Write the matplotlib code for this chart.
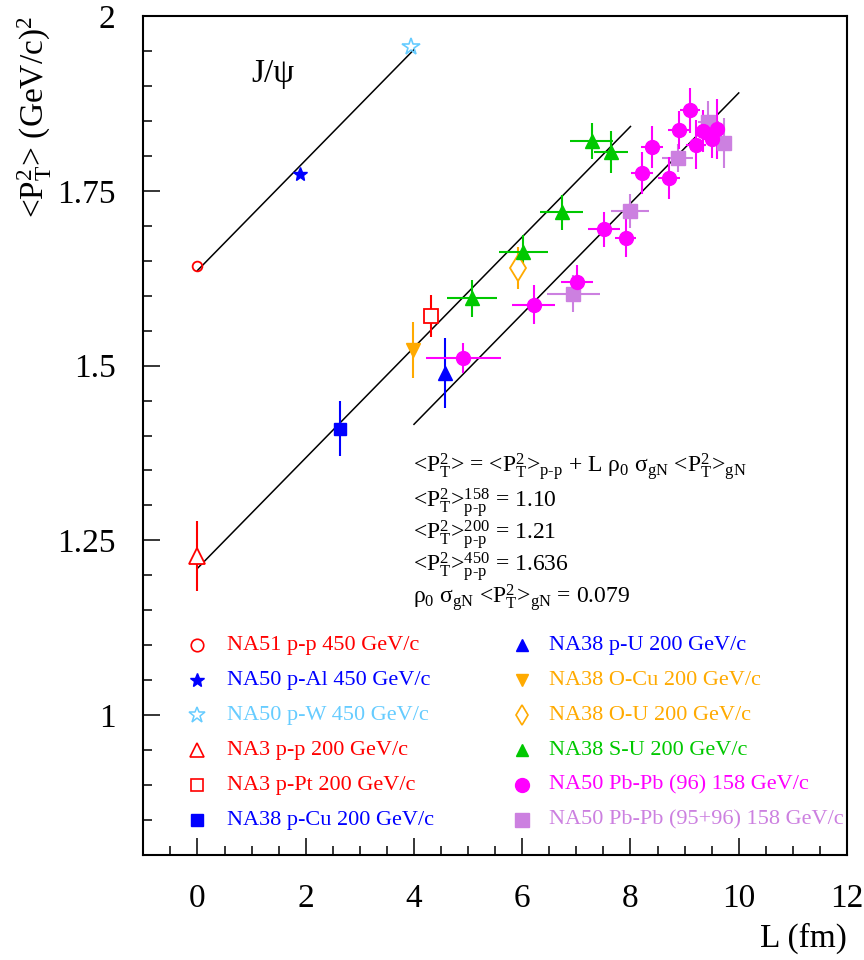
import numpy as np
import matplotlib
matplotlib.use("Agg")
import matplotlib.pyplot as plt
from matplotlib.ticker import MultipleLocator, FixedLocator, FixedFormatter

plt.rcParams["font.family"] = ["Liberation Serif", "DejaVu Serif"]
plt.rcParams["mathtext.fontset"] = "custom"
plt.rcParams["mathtext.rm"] = "Liberation Serif"
plt.rcParams["mathtext.it"] = "Liberation Serif:italic"

RED, BLUE, SKY = "#ff0000", "#0000ff", "#66ccff"
ORANGE, GREEN, MAG, LILAC = "#ffaa00", "#00c800", "#ff00ff", "#cc80e0"

# --- data (L in fm, <pT^2> in (GeV/c)^2) ---
na51_pp_x, na51_pp_y = [0.0], [1.642]
na50_al_x, na50_al_y = [1.90], [1.774]
na50_w_x, na50_w_y = [3.95], [1.956]
na3_pp_x, na3_pp_y, na3_pp_ey = [0.0], [1.227], [0.050]
na3_pt_x, na3_pt_y, na3_pt_ey = [4.31], [1.571], [0.030]
na38_cu_x, na38_cu_y, na38_cu_ey = [2.63], [1.410], [0.040]
na38_pu_x, na38_pu_y, na38_pu_ey = [4.57], [1.490], [0.050]
na38_ocu_x, na38_ocu_y, na38_ocu_ey = [3.99], [1.522], [0.040]
na38_ou_x, na38_ou_y, na38_ou_ey = [5.93], [1.640], [0.030]

na38_su_x = [5.07, 6.02, 6.73, 7.28, 7.64]
na38_su_y = [1.596, 1.662, 1.719, 1.821, 1.806]
na38_su_ex = [0.46, 0.45, 0.40, 0.40, 0.32]
na38_su_ey = [0.026, 0.025, 0.025, 0.026, 0.030]

pb96_x = [4.91, 6.21, 7.01, 7.51, 7.91, 8.21, 8.40, 8.71, 8.90, 9.10, 9.21, 9.34, 9.50, 9.60]
pb96_y = [1.511, 1.587, 1.619, 1.695, 1.683, 1.775, 1.812, 1.769, 1.837, 1.865, 1.816, 1.835, 1.824, 1.839]
pb96_ex = [0.69, 0.40, 0.29, 0.29, 0.20, 0.20, 0.20, 0.20, 0.20, 0.18, 0.18, 0.15, 0.15, 0.15]
pb96_ey = [0.021, 0.028, 0.025, 0.025, 0.027, 0.030, 0.030, 0.030, 0.027, 0.032, 0.035, 0.030, 0.027, 0.043]

pb9596_x = [6.94, 7.99, 8.87, 9.44, 9.72]
pb9596_y = [1.603, 1.721, 1.797, 1.848, 1.818]
pb9596_ex = [0.49, 0.35, 0.29, 0.20, 0.15]
pb9596_ey = [0.027, 0.024, 0.020, 0.030, 0.036]

# fit: <pT2> = <pT2>_pp + L rho0 sigma <pT2>_gN
slope = 0.079
fits = [(1.636, 0.0, 4.0), (1.21, 0.0, 8.0), (1.10, 4.0, 10.0)]

fig = plt.figure(figsize=(8.64, 9.6), dpi=100)
ax = fig.add_axes([0.1659, 0.1094, 0.8144, 0.8739])

for b, lo, hi in fits:
    L = np.array([lo, hi])
    ax.plot(L, b + slope * L, color="black", lw=1.1, zorder=2)


def pts(x, y, ex=None, ey=None, **kw):
    ax.errorbar(x, y, xerr=ex, yerr=ey, ls="none", elinewidth=1.5, capsize=0,
                ecolor=kw.get("color"), zorder=3, **kw)


pts(na51_pp_x, na51_pp_y, marker="o", ms=7, mfc="none", mew=1.3, color=RED)
pts(na50_al_x, na50_al_y, marker="*", ms=10, color=BLUE)
pts(na50_w_x, na50_w_y, marker="*", ms=13, mfc="none", mew=1.2, color=SKY)
pts(na3_pp_x, na3_pp_y, ey=na3_pp_ey, marker="^", ms=11, mfc="white", mew=1.3, color=RED)
pts(na3_pt_x, na3_pt_y, ey=na3_pt_ey, marker="s", ms=10, mfc="white", mew=1.3, color=RED)
pts(na38_cu_x, na38_cu_y, ey=na38_cu_ey, marker="s", ms=9, color=BLUE)
pts(na38_pu_x, na38_pu_y, ey=na38_pu_ey, marker="^", ms=10, color=BLUE)
pts(na38_ocu_x, na38_ocu_y, ey=na38_ocu_ey, marker="v", ms=10, color=ORANGE)
pts(na38_ou_x, na38_ou_y, ey=na38_ou_ey, marker="d", ms=13, mfc="white", mew=1.3, color=ORANGE)
pts(na38_su_x, na38_su_y, na38_su_ex, na38_su_ey, marker="^", ms=10, color=GREEN)
pts(pb9596_x, pb9596_y, pb9596_ex, pb9596_ey, marker="s", ms=10, color=LILAC)
pts(pb96_x, pb96_y, pb96_ex, pb96_ey, marker="o", ms=10, color=MAG)

# legend drawn by hand, ROOT style
left = [("NA51 p-p 450 GeV/c", RED, dict(marker="o", ms=9, mfc="none", mew=1.2)),
        ("NA50 p-Al 450 GeV/c", BLUE, dict(marker="*", ms=10)),
        ("NA50 p-W 450 GeV/c", SKY, dict(marker="*", ms=12, mfc="none", mew=1.1)),
        ("NA3 p-p 200 GeV/c", RED, dict(marker="^", ms=10, mfc="none", mew=1.2)),
        ("NA3 p-Pt 200 GeV/c", RED, dict(marker="s", ms=9, mfc="none", mew=1.2)),
        ("NA38 p-Cu 200 GeV/c", BLUE, dict(marker="s", ms=9))]
right = [("NA38 p-U 200 GeV/c", BLUE, dict(marker="^", ms=9)),
         ("NA38 O-Cu 200 GeV/c", ORANGE, dict(marker="v", ms=9)),
         ("NA38 O-U 200 GeV/c", ORANGE, dict(marker="d", ms=10, mfc="none", mew=1.2)),
         ("NA38 S-U 200 GeV/c", GREEN, dict(marker="^", ms=9)),
         ("NA50 Pb-Pb (96) 158 GeV/c", MAG, dict(marker="o", ms=10)),
         ("NA50 Pb-Pb (95+96) 158 GeV/c", LILAC, dict(marker="s", ms=10))]
rows = [1.10, 1.05, 1.00, 0.95, 0.90, 0.85]
for (xm, xt), col in (((0.0, 0.55), left), ((6.0, 6.5), right)):
    for y, (lab, c, st) in zip(rows, col):
        ax.plot([xm], [y], ls="none", color=c, **st)
        ax.text(xt, y, lab, color=c, fontsize=16, va="center", ha="left")

P2 = r"<P$^{2}_{\mathrm{T}}$>"
lines = [P2 + " = " + P2 + r"$_{\mathrm{p\text{-}p}}$ + L ρ$_0$ σ$_{\mathrm{gN}}$ " + P2 + r"$_{\mathrm{gN}}$",
         P2 + r"$^{158}_{\mathrm{p\text{-}p}}$ = 1.10",
         P2 + r"$^{200}_{\mathrm{p\text{-}p}}$ = 1.21",
         P2 + r"$^{450}_{\mathrm{p\text{-}p}}$ = 1.636",
         r"ρ$_0$ σ$_{\mathrm{gN}}$ " + P2 + r"$_{\mathrm{gN}}$ = 0.079"]
for y, s in zip([1.346, 1.297, 1.251, 1.205, 1.159], lines):
    ax.text(3.99, y, s, fontsize=17, ha="left", va="baseline")

ax.text(1.0, 1.917, "J/ψ", fontsize=24, ha="left", va="center")

ax.set_xlim(-1, 12)
ax.set_ylim(0.8, 2.0)
ax.xaxis.set_major_locator(MultipleLocator(2))
ax.xaxis.set_minor_locator(MultipleLocator(0.5))
yt = [1.0, 1.25, 1.5, 1.75, 2.0]
ax.yaxis.set_major_locator(FixedLocator(yt))
ax.yaxis.set_major_formatter(FixedFormatter(["1", "1.25", "1.5", "1.75", "2"]))
ax.yaxis.set_minor_locator(MultipleLocator(0.05))
ax.tick_params(which="both", direction="in", top=False, right=False, width=1.1)
ax.tick_params(which="major", length=12.5, labelsize=24)
ax.tick_params(axis="x", which="major", pad=20.5)
ax.tick_params(axis="y", which="major", pad=20)
ax.tick_params(which="minor", length=6.5)
for sp in ax.spines.values():
    sp.set_linewidth(1.5)

ax.set_xlabel("L (fm)", fontsize=24, loc="right")
ax.xaxis.set_label_coords(1.0, -0.099)
ax.xaxis.label.set_va("center")
ax.set_ylabel(P2 + r" (GeV/c)$^2$", fontsize=24, loc="top")
ax.yaxis.set_label_coords(-0.154, 1.0)
ax.yaxis.label.set_va("center")

fig.savefig("out.png", dpi=100)
